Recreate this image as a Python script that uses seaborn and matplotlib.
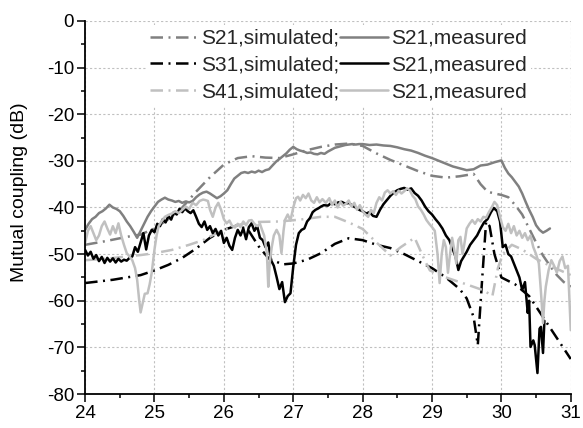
import numpy as np
import pandas as pd
import matplotlib
matplotlib.use("Agg")
import matplotlib.pyplot as plt
from matplotlib.lines import Line2D
from matplotlib.ticker import MultipleLocator
import seaborn as sns

# ---------------- data ----------------
s21_sim_f = [24.0, 24.3, 24.6, 24.8, 25.0, 25.2, 25.4, 25.6, 25.8, 26.0, 26.2, 26.4, 26.6, 26.8,
             27.0, 27.2, 27.4, 27.6, 27.8, 28.0, 28.2, 28.4, 28.6, 28.8, 29.0, 29.2, 29.4, 29.6,
             29.7, 29.8, 29.9, 30.0, 30.1, 30.2, 30.3, 30.4, 30.5, 30.6, 30.7, 30.8, 30.9, 31.0]
s21_sim_db = [-48.0, -47.2, -46.3, -45.8, -44.5, -42.5, -40.0, -36.6, -33.5, -30.8, -29.4, -29.0, -29.3, -29.4,
              -28.6, -27.7, -27.0, -26.5, -26.3, -26.8, -28.4, -29.8, -31.0, -32.2, -33.2, -33.6, -33.3, -32.8,
              -35.0, -36.6, -37.0, -37.3, -37.8, -39.5, -41.5, -44.5, -47.5, -50.3, -52.5, -54.5, -56.0, -57.0]

s31_sim_f = [24.0, 24.4, 24.8, 25.0, 25.2, 25.4, 25.6, 25.8, 26.0, 26.2, 26.35, 26.5, 26.65, 26.85,
             27.0, 27.2, 27.4, 27.6, 27.8, 28.0, 28.2, 28.4, 28.6, 28.8, 29.0, 29.2, 29.4, 29.5,
             29.6, 29.66, 29.72, 29.78, 29.83, 29.9, 30.0, 30.2, 30.4, 30.6, 30.8, 31.0]
s31_sim_db = [-56.2, -55.5, -54.5, -53.5, -52.3, -50.8, -48.8, -46.5, -44.8, -43.8, -44.8, -48.3, -51.0, -52.2,
              -52.0, -51.2, -49.8, -47.8, -46.6, -47.0, -48.0, -48.7, -50.0, -51.5, -53.0, -55.0, -57.5, -59.5,
              -63.5, -69.5, -56.0, -43.0, -44.0, -50.0, -55.0, -56.5, -59.0, -63.5, -68.0, -72.5]

s41_sim_f = [24.0, 24.3, 24.6, 24.8, 25.0, 25.25, 25.5, 25.7, 25.9, 26.1, 26.3, 26.5, 26.8, 27.1,
             27.4, 27.6, 27.8, 28.0, 28.2, 28.4, 28.55, 28.75, 28.9, 28.97, 29.2, 29.5, 29.75, 29.87,
             29.95, 30.02, 30.15, 30.3, 30.5, 30.7, 30.85, 31.0]
s41_sim_db = [-51.3, -51.0, -50.5, -50.2, -49.8, -49.1, -48.0, -47.0, -45.5, -44.2, -43.4, -43.1, -43.0, -42.6,
              -42.0, -42.0, -43.2, -44.6, -47.5, -50.3, -48.5, -46.5, -51.5, -53.5, -55.0, -56.5, -57.8, -59.0,
              -53.0, -50.0, -48.0, -49.0, -51.0, -52.5, -53.5, -54.5]

s21_meas_f = [24.00, 24.05, 24.10, 24.15, 24.20, 24.25, 24.30, 24.35, 24.40, 24.45, 24.50, 24.55, 24.60,
              24.65, 24.70, 24.75, 24.80, 24.85, 24.90, 24.95, 25.00, 25.05, 25.10, 25.15, 25.20, 25.25,
              25.30, 25.35, 25.40, 25.45, 25.50, 25.55, 25.60, 25.65, 25.70, 25.75, 25.80, 25.85, 25.90,
              25.95, 26.00, 26.05, 26.10, 26.15, 26.20, 26.25, 26.30, 26.35, 26.40, 26.45, 26.50, 26.55,
              26.60, 26.65, 26.70, 26.75, 26.80, 26.85, 26.90, 26.95, 27.00, 27.05, 27.10, 27.15, 27.20,
              27.25, 27.30, 27.35, 27.40, 27.45, 27.50, 27.55, 27.60, 27.65, 27.70, 27.75, 27.80, 27.85,
              27.90, 27.95, 28.00, 28.10, 28.20, 28.30, 28.40, 28.50, 28.60, 28.70, 28.80, 28.90, 29.00,
              29.10, 29.20, 29.30, 29.40, 29.50, 29.60, 29.70, 29.80, 29.90, 30.00, 30.05, 30.10, 30.15,
              30.20, 30.25, 30.30, 30.35, 30.40, 30.45, 30.50, 30.55, 30.60, 30.65, 30.70]
s21_meas_db = [-44.8, -43.5, -42.5, -42.0, -41.2, -40.8, -40.2, -39.4, -40.0, -40.3, -40.8, -41.8, -43.0,
               -44.0, -45.2, -46.5, -45.0, -43.5, -42.0, -40.8, -39.8, -38.8, -38.3, -37.9, -38.3, -38.5,
               -38.8, -38.6, -39.0, -38.7, -38.9, -38.6, -37.8, -37.2, -36.8, -36.6, -37.0, -37.5, -38.0,
               -37.6, -37.0, -36.3, -35.0, -33.8, -33.2, -32.6, -32.4, -32.6, -32.3, -32.5, -32.1, -32.4,
               -32.0, -31.8, -31.0, -30.2, -29.6, -29.0, -28.4, -27.6, -27.0, -27.5, -27.8, -28.0, -28.3,
               -28.2, -28.5, -28.6, -28.3, -28.5, -28.0, -27.6, -27.2, -27.0, -26.8, -26.6, -26.5, -26.4,
               -26.5, -26.4, -26.4, -26.6, -26.5, -26.7, -26.8, -27.1, -27.5, -27.8, -28.3, -28.9, -29.4,
               -30.0, -30.6, -31.2, -31.6, -32.0, -31.8, -31.0, -30.8, -30.3, -29.9, -31.5, -32.7, -33.5,
               -34.5, -35.5, -37.0, -38.8, -40.5, -42.0, -43.8, -44.8, -45.4, -45.0, -44.5]

s31_meas_f = [24.00, 24.04, 24.08, 24.12, 24.16, 24.20, 24.24, 24.28, 24.32, 24.36, 24.40, 24.44, 24.48,
              24.52, 24.56, 24.60, 24.64, 24.68, 24.72, 24.76, 24.80, 24.84, 24.88, 24.92, 24.96, 25.00,
              25.04, 25.08, 25.12, 25.16, 25.20, 25.24, 25.28, 25.32, 25.36, 25.40, 25.44, 25.48, 25.52,
              25.56, 25.60, 25.64, 25.68, 25.72, 25.76, 25.80, 25.84, 25.88, 25.92, 25.96, 26.00, 26.04,
              26.08, 26.12, 26.16, 26.20, 26.24, 26.28, 26.32, 26.36, 26.40, 26.44, 26.48, 26.52, 26.56,
              26.60, 26.64, 26.68, 26.72, 26.76, 26.80, 26.84, 26.88, 26.92, 26.96, 27.00, 27.04, 27.08,
              27.12, 27.16, 27.20, 27.24, 27.28, 27.32, 27.36, 27.40, 27.44, 27.50, 27.55, 27.60, 27.65,
              27.70, 27.75, 27.80, 27.85, 27.90, 27.95, 28.00, 28.05, 28.10, 28.15, 28.20, 28.25, 28.30,
              28.35, 28.40, 28.45, 28.50, 28.55, 28.60, 28.65, 28.70, 28.75, 28.80, 28.85, 28.90, 28.95,
              29.00, 29.05, 29.10, 29.15, 29.20, 29.25, 29.30, 29.34, 29.38, 29.42, 29.46, 29.50, 29.55,
              29.60, 29.65, 29.70, 29.75, 29.80, 29.85, 29.89, 29.94, 29.98, 30.02, 30.06, 30.10, 30.14,
              30.18, 30.22, 30.26, 30.30, 30.34, 30.38, 30.40, 30.42, 30.46, 30.48, 30.52, 30.55, 30.57,
              30.60, 30.62]
s31_meas_db = [-49.1, -50.3, -49.5, -51.0, -50.2, -51.5, -50.6, -51.9, -50.8, -51.6, -50.9, -51.8, -51.0,
               -51.6, -51.2, -51.4, -50.8, -50.5, -48.5, -49.5, -47.5, -45.5, -49.0, -46.0, -44.8, -45.3,
               -43.5, -44.0, -42.5, -43.2, -41.8, -42.6, -41.0, -41.5, -40.3, -41.0, -40.2, -40.8, -41.2,
               -40.6, -42.0, -43.5, -44.2, -43.0, -44.8, -44.0, -45.5, -44.6, -46.0, -45.0, -47.6, -46.5,
               -48.2, -49.1, -46.5, -44.8, -46.0, -44.5, -46.8, -44.2, -43.4, -45.0, -44.0, -46.5, -47.0,
               -48.5, -47.5, -51.3, -52.5, -54.9, -57.5, -56.0, -60.3, -59.0, -58.4, -52.7, -48.0, -45.5,
               -44.8, -44.5, -43.0, -42.3, -41.0, -40.5, -40.2, -39.8, -39.5, -39.6, -39.0, -39.3, -38.9,
               -38.8, -39.2, -39.0, -39.6, -40.0, -40.5, -40.8, -41.3, -41.0, -41.8, -42.0, -40.5, -39.3,
               -38.4, -37.5, -36.8, -36.3, -36.0, -35.8, -36.2, -35.9, -36.9, -37.5, -38.5, -39.8, -40.8,
               -41.5, -42.5, -43.4, -44.5, -46.0, -47.0, -49.0, -50.6, -53.4, -51.5, -50.5, -49.5, -48.0,
               -47.0, -46.0, -44.5, -43.2, -42.5, -41.0, -40.1, -40.8, -43.0, -48.5, -48.0, -50.0, -50.5,
               -52.0, -53.5, -55.0, -57.7, -56.0, -62.6, -60.0, -69.9, -68.5, -69.5, -75.5, -66.0, -65.6,
               -71.2, -64.3]

s41_meas_f = [24.00, 24.04, 24.08, 24.12, 24.16, 24.20, 24.24, 24.28, 24.32, 24.36, 24.40, 24.44, 24.48,
              24.52, 24.56, 24.60, 24.64, 24.68, 24.72, 24.75, 24.78, 24.80, 24.83, 24.86, 24.90, 24.93,
              24.96, 25.00, 25.03, 25.06, 25.10, 25.15, 25.20, 25.25, 25.30, 25.35, 25.40, 25.45, 25.50,
              25.55, 25.60, 25.65, 25.70, 25.73, 25.77, 25.80, 25.84, 25.88, 25.92, 25.96, 26.00, 26.04,
              26.08, 26.12, 26.16, 26.20, 26.24, 26.28, 26.32, 26.36, 26.40, 26.44, 26.48, 26.52, 26.55,
              26.58, 26.62, 26.64, 26.66, 26.69, 26.72, 26.76, 26.80, 26.83, 26.86, 26.88, 26.92, 26.96,
              27.00, 27.04, 27.07, 27.10, 27.14, 27.18, 27.22, 27.26, 27.30, 27.34, 27.38, 27.42, 27.47,
              27.52, 27.56, 27.60, 27.64, 27.68, 27.72, 27.76, 27.80, 27.84, 27.88, 27.92, 27.96, 28.00,
              28.04, 28.08, 28.12, 28.16, 28.20, 28.24, 28.28, 28.32, 28.36, 28.40, 28.44, 28.48, 28.52,
              28.56, 28.60, 28.64, 28.68, 28.72, 28.76, 28.80, 28.84, 28.88, 28.92, 28.96, 29.00, 29.04,
              29.08, 29.11, 29.14, 29.17, 29.20, 29.23, 29.26, 29.29, 29.32, 29.35, 29.38, 29.41, 29.44,
              29.47, 29.50, 29.54, 29.58, 29.62, 29.66, 29.70, 29.74, 29.78, 29.82, 29.86, 29.90, 29.94,
              29.98, 30.02, 30.06, 30.10, 30.14, 30.18, 30.22, 30.26, 30.30, 30.34, 30.38, 30.42, 30.46,
              30.50, 30.54, 30.57, 30.60, 30.62, 30.64, 30.68, 30.72, 30.76, 30.80, 30.84, 30.88, 30.92,
              30.96, 31.00]
s41_meas_db = [-47.6, -45.0, -44.0, -45.5, -47.0, -46.0, -44.0, -43.0, -44.5, -45.8, -44.0, -45.5, -43.4,
               -46.0, -48.0, -49.8, -50.5, -51.3, -53.0, -55.5, -60.0, -62.5, -60.5, -58.5, -58.4, -56.5,
               -54.0, -49.0, -46.0, -44.0, -43.0, -42.0, -41.6, -41.3, -40.8, -41.2, -40.5, -39.8, -40.3,
               -39.0, -39.5, -38.6, -38.3, -38.4, -38.6, -40.5, -42.0, -40.0, -39.0, -40.5, -42.5, -43.4,
               -42.8, -44.0, -44.3, -43.5, -44.2, -43.0, -43.8, -42.8, -42.7, -43.5, -44.0, -43.5, -44.8,
               -46.0, -49.8, -57.0, -52.0, -48.5, -46.0, -44.8, -46.0, -49.8, -45.0, -42.7, -41.5, -42.8,
               -40.0, -38.0, -37.7, -38.5, -37.3, -38.0, -37.0, -38.5, -39.0, -37.8, -38.9, -38.2, -39.0,
               -38.0, -39.5, -38.5, -40.0, -38.8, -39.6, -39.2, -38.5, -39.8, -39.0, -40.5, -39.5, -40.8,
               -41.5, -42.0, -40.5, -41.2, -39.0, -37.8, -38.5, -36.8, -36.3, -37.0, -36.5, -37.3, -36.4,
               -37.0, -36.5, -35.9, -36.3, -37.5, -38.2, -39.8, -40.5, -41.5, -42.7, -43.5, -44.2, -45.0,
               -50.0, -56.2, -50.0, -47.0, -48.5, -54.0, -50.0, -46.5, -49.0, -52.0, -47.0, -46.3, -50.0,
               -47.5, -44.5, -43.5, -42.7, -43.5, -42.5, -43.0, -42.0, -42.2, -41.0, -40.0, -38.8, -39.5,
               -42.0, -44.2, -45.0, -43.5, -45.5, -44.0, -46.0, -45.0, -46.5, -45.5, -47.0, -46.0, -48.5,
               -50.0, -52.0, -58.0, -64.8, -60.0, -57.0, -53.5, -51.3, -52.5, -54.0, -51.5, -50.5, -53.0,
               -52.5, -66.3]

series_names = ["S21 sim", "S31 sim", "S41 sim", "S21 meas", "S31 meas", "S41 meas"]
legend_labels = ["S21,simulated;", "S31,simulated;", "S41,simulated;",
                 "S21,measured", "S21,measured", "S21,measured"]

x_ticks = [24, 25, 26, 27, 28, 29, 30, 31]
y_ticks = [-80, -70, -60, -50, -40, -30, -20, -10, 0]

# ---------------- styling ----------------
colors = {"S21 sim": "#808080", "S31 sim": "#000000", "S41 sim": "#c0c0c0",
          "S21 meas": "#808080", "S31 meas": "#000000", "S41 meas": "#c0c0c0"}
dashdot = (5, 2.2, 0.8, 2.2)
dash_map = {"S21 sim": dashdot, "S31 sim": dashdot, "S41 sim": dashdot,
            "S21 meas": "", "S31 meas": "", "S41 meas": ""}

frames = []
for name, f, d in [("S21 sim", s21_sim_f, s21_sim_db), ("S31 sim", s31_sim_f, s31_sim_db),
                   ("S41 sim", s41_sim_f, s41_sim_db), ("S21 meas", s21_meas_f, s21_meas_db),
                   ("S31 meas", s31_meas_f, s31_meas_db), ("S41 meas", s41_meas_f, s41_meas_db)]:
    frames.append(pd.DataFrame({"freq": f, "db": d, "series": name}))
df = pd.concat(frames, ignore_index=True)

sns.set_theme(style="ticks")
plt.rcParams["font.family"] = ["Liberation Sans", "DejaVu Sans"]
plt.rcParams["axes.unicode_minus"] = False

fig = plt.figure(figsize=(5.83, 4.28), dpi=100)
ax = fig.add_axes([0.146, 0.0794, 0.979 - 0.146, 0.951 - 0.0794])

lw = 1.8
sns.lineplot(data=df, x="freq", y="db", hue="series", style="series",
             hue_order=series_names, style_order=series_names,
             palette=colors, dashes=dash_map, sort=False, estimator=None,
             linewidth=lw, legend=False, ax=ax)

ax.set_xlim(24, 31)
ax.set_ylim(-80, 0)
ax.set_xticks(x_ticks)
ax.set_yticks(y_ticks)
ax.xaxis.set_minor_locator(MultipleLocator(0.5))
ax.yaxis.set_minor_locator(MultipleLocator(5))
ax.tick_params(axis="both", which="major", direction="out", length=6, width=1.1,
               labelsize=13.5, color="black", labelcolor="black", pad=2)
ax.tick_params(axis="both", which="minor", direction="out", length=3, width=1.1, color="black")
ax.grid(True, which="major", color="#c0c0c0", linestyle=(0, (2, 2)), linewidth=0.8)
ax.set_axisbelow(True)
for s in ["top", "right"]:
    ax.spines[s].set_visible(False)
for s in ["left", "bottom"]:
    ax.spines[s].set_linewidth(1.3)
    ax.spines[s].set_color("black")

ax.set_xlabel("")
ax.set_ylabel("Mutual coupling (dB)", fontsize=14, color="black")
ax.yaxis.set_label_coords(-0.117, 0.54)

handles = []
for name in series_names:
    ls = (0, dash_map[name]) if dash_map[name] else "-"
    handles.append(Line2D([], [], color=colors[name], linewidth=lw, linestyle=ls))
leg = ax.legend(handles, legend_labels, ncol=2, loc="upper left",
                bbox_to_anchor=(0.125, 0.99), frameon=True, fontsize=15,
                handlelength=2.3, handletextpad=0.15, columnspacing=0.05,
                labelspacing=0.38, borderaxespad=0.0, borderpad=0.2)
leg.get_frame().set_facecolor("white")
leg.get_frame().set_edgecolor("none")
leg.get_frame().set_alpha(1.0)

fig.savefig("out.png", dpi=100)
